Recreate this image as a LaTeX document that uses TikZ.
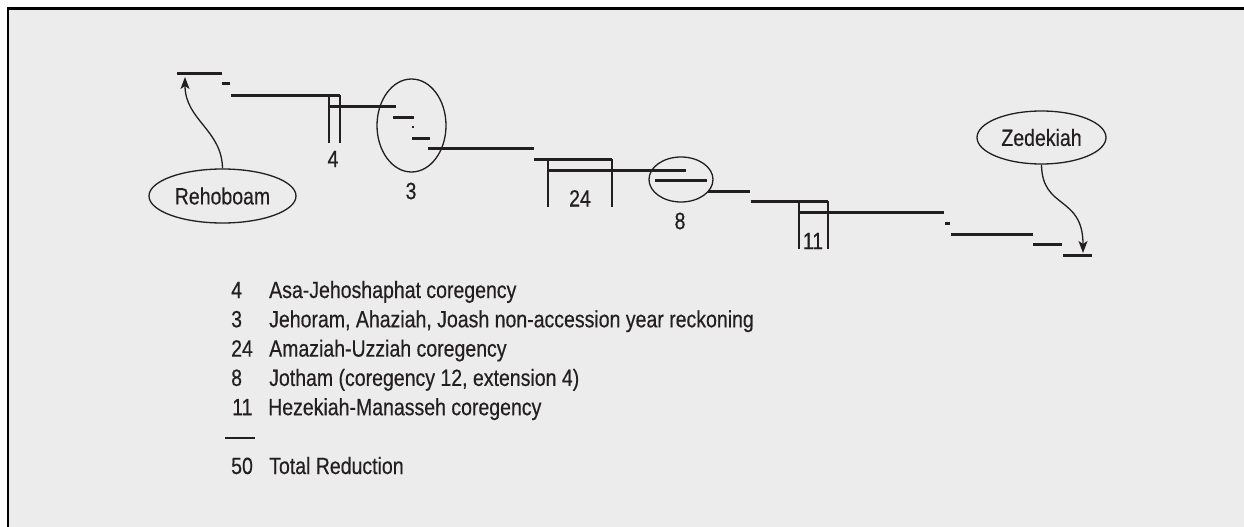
\documentclass[tikz,border=0pt]{standalone}
\usepackage{fontspec}
\setmainfont{Liberation Sans}[FakeStretch=0.83, FakeBold=0.4]
\usetikzlibrary{shapes.geometric,arrows.meta}
\definecolor{ink}{HTML}{231F20}
\definecolor{paper}{HTML}{ECECEC}
\begin{document}
\begin{tikzpicture}[x=1pt,y=-1pt,
  txt/.style={font=\fontsize{23.5}{28}\selectfont, text=ink, inner sep=0pt},
  reign/.style={draw=ink, line width=3pt},
  bracket/.style={draw=ink, line width=1.1pt},
  ring/.style={draw=ink, line width=1.3pt, ellipse, inner sep=0pt},
  namering/.style={ring, txt},
  pointer/.style={draw=ink, line width=1.3pt, -{Stealth[length=12pt,width=9pt,inset=3pt]}},
  key/.style={txt, anchor=base west}]
% page and frame
\useasboundingbox (0,0) rectangle (1244,527);
\fill[white] (0,0) rectangle (1244,527);
\fill[paper] (8,8.7) rectangle (1244,527);
\draw[black, line width=2.7pt] (8,527) -- (8,8.7) -- (1244,8.7);

% reigns, stepping down the page
\draw[reign] (177,73.5) -- (222,73.5);
\draw[reign] (222,83.5) -- (230,83.5);
\draw[reign] (231,95.5) -- (340,95.5);
\draw[reign] (329,106.5) -- (396,106.5);
\draw[reign] (393,117.5) -- (414,117.5);
\fill[ink] (411.6,125.6) rectangle (414.4,128.4);
\draw[reign] (412,138.5) -- (430,138.5);
\draw[reign] (428,148.5) -- (534,148.5);
\draw[reign] (534,159.5) -- (612,159.5);
\draw[reign] (548,170.5) -- (686,170.5);
\draw[reign] (655,180.5) -- (707,180.5);
\draw[reign] (708,191.5) -- (750,191.5);
\draw[reign] (751,201.5) -- (828,201.5);
\draw[reign] (799,212.5) -- (944,212.5);
\draw[reign] (945,223.5) -- (950,223.5);
\draw[reign] (951,234.5) -- (1033,234.5);
\draw[reign] (1033,244.5) -- (1062,244.5);
\draw[reign] (1063,255.5) -- (1092,255.5);

% coregency brackets
\draw[bracket] (329,95) -- (329,143);
\draw[bracket] (340,95) -- (340,143);
\draw[bracket] (548,159) -- (548,207);
\draw[bracket] (612,159) -- (612,207);
\draw[bracket] (799,201) -- (799,249);
\draw[bracket] (828,201) -- (828,249);

% reductions
\node[ring, minimum width=69pt, minimum height=93pt] (nonacc) at (411.5,125.5) {};
\node[ring, minimum width=64pt, minimum height=45pt] (jotham) at (681,179.5) {};
\node[txt] (n4) at (333,159) {4};
\node[txt] (n3) at (411,191) {3};
\node[txt] (n24) at (580,198.3) {24};
\node[txt] (n8) at (680,221) {8};
\node[txt] (n11) at (813,241) {11};

% first and last kings
\node[namering, minimum width=147pt, minimum height=54pt] (reh) at (222.5,196) {Rehoboam};
\node[namering, minimum width=129pt, minimum height=53pt] (zed) at (1041.5,137.5) {Zedekiah};
\coordinate (rehTip) at (185,77);
\coordinate (zedTip) at (1083,253);
\draw[pointer] (reh.north) .. controls (222,130) and (185,120) .. (rehTip);
\draw[pointer] (zed.south) .. controls (1042,210) and (1083,195) .. (zedTip);

% key
\node[key] (k4) at (231,298) {4};
\node[key] (t4) at (269,298) {Asa-Jehoshaphat coregency};
\node[key] (k3) at (231,327.3) {3};
\node[key] (t3) at (269,327.3) {Jehoram, Ahaziah, Joash non-accession year reckoning};
\node[key] (k24) at (231,356.6) {24};
\node[key] (t24) at (269,356.6) {Amaziah-Uzziah coregency};
\node[key] (k8) at (231,385.9) {8};
\node[key] (t8) at (269,385.9) {Jotham (coregency 12, extension 4)};
\node[key] (k11) at (232,415.2) {11};
\node[key] (t11) at (268,415.2) {Hezekiah-Manasseh coregency};
\draw[draw=ink, line width=1.2pt] (225,438) -- (255,438);
\node[key] (k50) at (231,474) {50};
\node[key] (t50) at (269,474) {Total Reduction};
\end{tikzpicture}
\end{document}
